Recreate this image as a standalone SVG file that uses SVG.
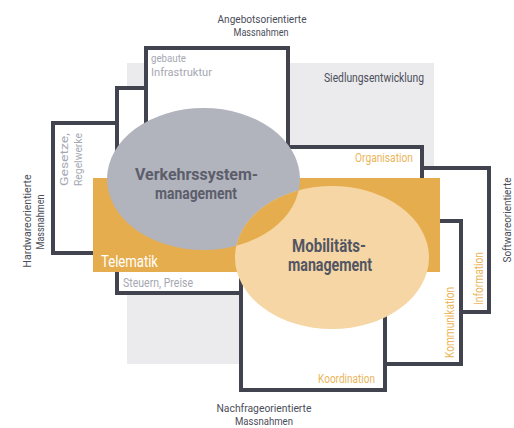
<svg xmlns="http://www.w3.org/2000/svg" width="514" height="428" viewBox="0 0 514 428">
<style>
.box{fill:#fff;stroke:#41444f;stroke-width:4}
.t{font-family:Roboto,"Liberation Sans",sans-serif;font-size:12px}
.s11{font-size:11px}
.dark{fill:#4b4e5a}
.lg{fill:#a5a8b2}
.or{fill:#eab65c}
.big{font-size:17px;font-weight:bold;text-anchor:middle}
.mid{text-anchor:middle}
.end{text-anchor:end}
</style>
<defs>
<clipPath id="clipV"><ellipse cx="203.5" cy="179" rx="96.5" ry="71"/></clipPath>
</defs>
<rect x="0" y="0" width="514" height="428" fill="#fff"/>
<g id="siedlungsentwicklung">
<rect x="127" y="63" width="307" height="301" fill="#ebebed"/>
</g>
<g id="gesetze">
<rect class="box" x="53" y="123" width="80" height="130"/>
<text class="t s11 lg" transform="translate(68,186) rotate(-90)" textLength="53" lengthAdjust="spacingAndGlyphs">Gesetze,</text>
<text class="t s11 lg" transform="translate(82,186) rotate(-90)" textLength="53" lengthAdjust="spacingAndGlyphs">Regelwerke</text>
</g>
<g id="steuern">
<rect class="box" x="117" y="88" width="130" height="205"/>
</g>
<g id="infrastruktur">
<rect class="box" x="146" y="48" width="142" height="152"/>
<text class="t s11 lg" x="151" y="62" textLength="35" lengthAdjust="spacingAndGlyphs">gebaute</text>
<text class="t s11 lg" x="151" y="76" textLength="61" lengthAdjust="spacingAndGlyphs">Infrastruktur</text>
</g>
<g id="information">
<rect class="box" x="422" y="168" width="67" height="144"/>
</g>
<g id="organisation">
<rect class="box" x="288" y="147" width="134" height="53"/>
<text class="t or end" x="413" y="162" textLength="58" lengthAdjust="spacingAndGlyphs">Organisation</text>
</g>
<g id="kommunikation">
<rect class="box" x="300" y="221" width="161" height="143"/>
</g>
<g id="koordination">
<rect class="box" x="241" y="250" width="144" height="140"/>
<text class="t or end" x="375" y="383" textLength="57" lengthAdjust="spacingAndGlyphs">Koordination</text>
</g>
<g id="telematik">
<rect x="93" y="178" width="347" height="94" fill="#e6ad4e"/>
<text class="t" x="101" y="267" fill="#fff" style="font-size:16px" textLength="57" lengthAdjust="spacingAndGlyphs">Telematik</text>
</g>
<g id="labels">
<text class="t dark end" x="424" y="82" textLength="100" lengthAdjust="spacingAndGlyphs">Siedlungsentwicklung</text>
<text class="t lg" x="123" y="287" textLength="70" lengthAdjust="spacingAndGlyphs">Steuern, Preise</text>
<text class="t or" transform="translate(454,358) rotate(-90)" textLength="71" lengthAdjust="spacingAndGlyphs">Kommunikation</text>
<text class="t or" transform="translate(483,305) rotate(-90)" textLength="53" lengthAdjust="spacingAndGlyphs">Information</text>
</g>
<g id="verkehrssystemmanagement">
<ellipse cx="203.5" cy="179" rx="96.5" ry="71" fill="#b1b3bd"/>
</g>
<g id="mobilitaetsmanagement">
<ellipse cx="332" cy="257.5" rx="97" ry="71.5" fill="#f5d6a4"/>
<ellipse cx="332" cy="257.5" rx="97" ry="71.5" fill="#e6ad4e" clip-path="url(#clipV)"/>
</g>
<g id="ellipse-labels">
<text class="t big" x="196.5" y="180" fill="#5b5e6a" textLength="123" lengthAdjust="spacingAndGlyphs">Verkehrssystem-</text>
<text class="t big" x="196" y="199" fill="#5b5e6a" textLength="82" lengthAdjust="spacingAndGlyphs">management</text>
<text class="t big" x="329" y="252" fill="#525563" style="font-size:18px" textLength="74" lengthAdjust="spacingAndGlyphs">Mobilitäts-</text>
<text class="t big" x="330" y="271" fill="#525563" style="font-size:18px" textLength="84" lengthAdjust="spacingAndGlyphs">management</text>
</g>
<g id="axes">
<text class="t s11 dark mid" x="262" y="23" textLength="89" lengthAdjust="spacingAndGlyphs">Angebotsorientierte</text>
<text class="t s11 dark mid" x="261" y="36" textLength="55" lengthAdjust="spacingAndGlyphs">Massnahmen</text>
<text class="t s11 dark mid" x="264" y="412" textLength="95" lengthAdjust="spacingAndGlyphs">Nachfrageorientierte</text>
<text class="t s11 dark mid" x="264" y="425" textLength="58" lengthAdjust="spacingAndGlyphs">Massnahmen</text>
<text class="t s11 dark mid" transform="translate(31,221) rotate(-90)" textLength="93" lengthAdjust="spacingAndGlyphs">Hardwareorientierte</text>
<text class="t s11 dark mid" transform="translate(44,222) rotate(-90)" textLength="55" lengthAdjust="spacingAndGlyphs">Massnahmen</text>
<text class="t s11 dark mid" transform="translate(511,220) rotate(-90)" textLength="85" lengthAdjust="spacingAndGlyphs">Softwareorientierte</text>
</g>
</svg>
